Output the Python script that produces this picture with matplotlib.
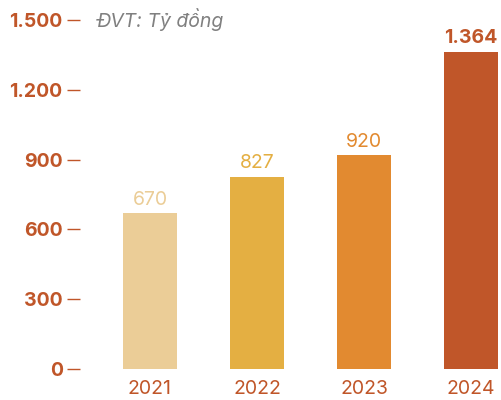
import matplotlib.pyplot as plt

plt.rcParams['font.family'] = ['Inter', 'DejaVu Sans']

years = ["2021", "2022", "2023", "2024"]
values = [670, 827, 920, 1364]
value_labels = ["670", "827", "920", "1.364"]
colors = ["#EBCD97", "#E4AF42", "#E28A30", "#C05629"]
yticks = [0, 300, 600, 900, 1200, 1500]
ytick_labels = ["0", "300", "600", "900", "1.200", "1.500"]
accent = "#C05629"

fig = plt.figure(figsize=(5.02, 4.0), dpi=100)
ax = fig.add_axes([80 / 502, 31 / 400, 422 / 502, 349 / 400])

x = range(len(years))
bars = ax.bar(x, values, width=0.505, color=colors)

for i, b in enumerate(bars):
    bold = i == len(bars) - 1
    ax.annotate(value_labels[i], (b.get_x() + b.get_width() / 2, b.get_height()),
                xytext=(0, 3), textcoords="offset points", ha="center", va="bottom",
                fontsize=14, color=colors[i], fontweight="bold" if bold else "normal")

ax.set_xlim(-0.654, 3.29)
ax.set_ylim(0, 1500)
ax.set_yticks(yticks)
ax.set_yticklabels(ytick_labels, fontsize=14, fontweight="bold", color=accent)
ax.set_xticks(list(x))
ax.set_xticklabels(years, fontsize=14, color=accent)
ax.tick_params(axis="y", length=9.5, width=1.0, color=accent, pad=3)
ax.tick_params(axis="x", length=0, pad=8)
for s in ax.spines.values():
    s.set_visible(False)

ax.text(97, 380, "ĐVT: Tỷ đồng", transform=None, fontsize=14, style="italic",
        color="#808080", va="center", ha="left")

fig.savefig("out.png", dpi=100)
